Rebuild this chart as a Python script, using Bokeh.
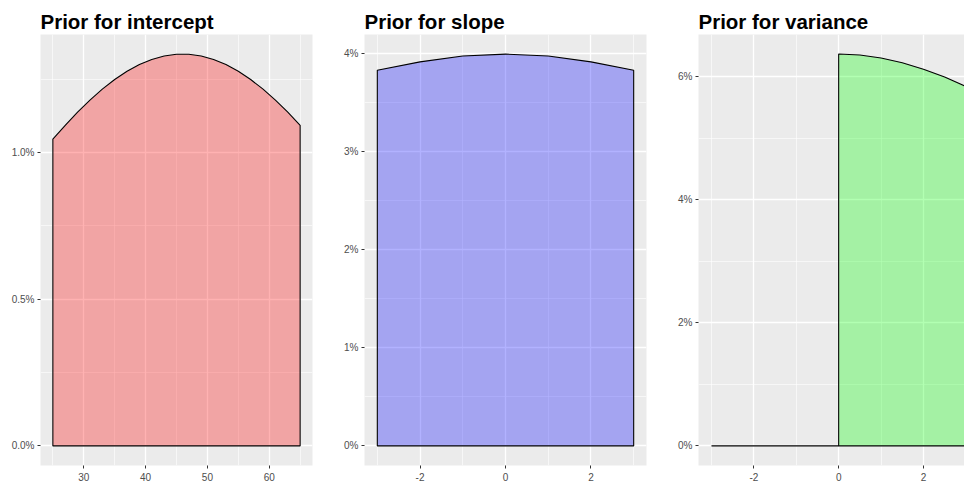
from bokeh.plotting import figure
from bokeh.layouts import row
from bokeh.models import FixedTicker, PrintfTickFormatter, Range1d
from bokeh.embed import file_html
from bokeh.resources import INLINE

titles = ["Prior for intercept", "Prior for slope", "Prior for variance"]

intercept_x = [25, 27, 29, 31, 33, 35, 37, 39, 41, 43, 45, 47, 49, 51, 53, 55, 57, 59, 61, 63, 65]
intercept_density = [1.0457, 1.0933, 1.1379, 1.1790, 1.2164, 1.2492, 1.2773, 1.3002, 1.3177, 1.3294,
                     1.3353, 1.3353, 1.3294, 1.3177, 1.3002, 1.2773, 1.2492, 1.2164, 1.1790, 1.1379, 1.0933]

slope_x = [-3, -2, -1, 0, 1, 2, 3]
slope_density = [3.824, 3.910, 3.969, 3.989, 3.969, 3.910, 3.824]

variance_x = [0, 0.5, 1, 1.5, 2, 2.5, 3]
variance_density = [6.366, 6.350, 6.303, 6.226, 6.121, 5.992, 5.840]
variance_zero_x = [-3, 0]
variance_zero_y = [0, 0]

intercept_xticks = [30, 40, 50, 60]
intercept_xminor = [25, 35, 45, 55, 65]
intercept_yticks = [0.0, 0.5, 1.0]
intercept_yminor = [0.25, 0.75, 1.25]

slope_xticks = [-2, 0, 2]
slope_xminor = [-3, -1, 1, 3]
slope_yticks = [0, 1, 2, 3, 4]
slope_yminor = [0.5, 1.5, 2.5, 3.5]

variance_xticks = [-2, 0, 2]
variance_xminor = [-3, -1, 1, 3]
variance_yticks = [0, 2, 4, 6]
variance_yminor = [1, 3, 5]

FONT = "Liberation Sans"
H = 484


def make(title, width, bl, br, xr, yr, xt, xm, yt, ym, yfmt):
    p = figure(width=width, height=H, x_range=Range1d(*xr), y_range=Range1d(*yr),
               output_backend="svg", toolbar_location=None,
               min_border_left=bl, min_border_right=br, min_border_top=34, min_border_bottom=19,
               background_fill_color="#EBEBEB", border_fill_color="white",
               outline_line_color=None)
    p.title.text = title
    p.title.text_font = FONT
    p.title.text_font_style = "bold"
    p.title.text_font_size = "20.5px"
    p.title.text_color = "black"
    p.title.align = "left"
    p.title.standoff = 4
    xtk = FixedTicker(ticks=xt, minor_ticks=xm)
    ytk = FixedTicker(ticks=yt, minor_ticks=ym)
    p.xaxis.ticker = xtk
    p.yaxis.ticker = ytk
    p.xgrid.ticker = xtk
    p.ygrid.ticker = ytk
    p.xaxis.formatter = PrintfTickFormatter(format="%d")
    p.yaxis.formatter = PrintfTickFormatter(format=yfmt)
    for ax in (p.xaxis, p.yaxis):
        ax.axis_line_color = None
        ax.major_tick_line_color = "#333333"
        ax.major_tick_in = 0
        ax.major_tick_out = 3
        ax.minor_tick_line_color = None
        ax.major_label_text_font = FONT
        ax.major_label_text_font_size = "10px"
        ax.major_label_text_color = "#4D4D4D"
        ax.major_label_standoff = 2
    p.xaxis.major_label_standoff = 3
    for g in (p.xgrid, p.ygrid):
        g.grid_line_color = "white"
        g.grid_line_width = 1.3
        g.minor_grid_line_color = "white"
        g.minor_grid_line_width = 0.6
    return p


p1 = make(titles[0], 330, 40, 18, (23, 67), (-0.0668, 1.4028),
          intercept_xticks, intercept_xminor, intercept_yticks, intercept_yminor, "%.1f%%")
p1.patch([intercept_x[0]] + intercept_x + [intercept_x[-1]], [0] + intercept_density + [0],
         fill_color="red", fill_alpha=0.3, line_color="black", line_width=1.1)

p2 = make(titles[1], 330, 34, 14, (-3.3, 3.3), (-0.1995, 4.1885),
          slope_xticks, slope_xminor, slope_yticks, slope_yminor, "%d%%")
p2.patch([slope_x[0]] + slope_x + [slope_x[-1]], [0] + slope_density + [0],
         fill_color="blue", fill_alpha=0.3, line_color="black", line_width=1.1)

p3 = make(titles[2], 304, 38, 0, (-3.306, 2.968), (-0.3183, 6.684),
          variance_xticks, variance_xminor, variance_yticks, variance_yminor, "%d%%")
p3.patch([variance_x[0]] + variance_x + [variance_x[-1]], [0] + variance_density + [0],
         fill_color="#00FF00", fill_alpha=0.3, line_color="black", line_width=1.1)
p3.line(variance_zero_x, variance_zero_y, line_color="black", line_width=1.1)

layout = row(p1, p2, p3)
open("out.html", "w").write(file_html(layout, INLINE))
